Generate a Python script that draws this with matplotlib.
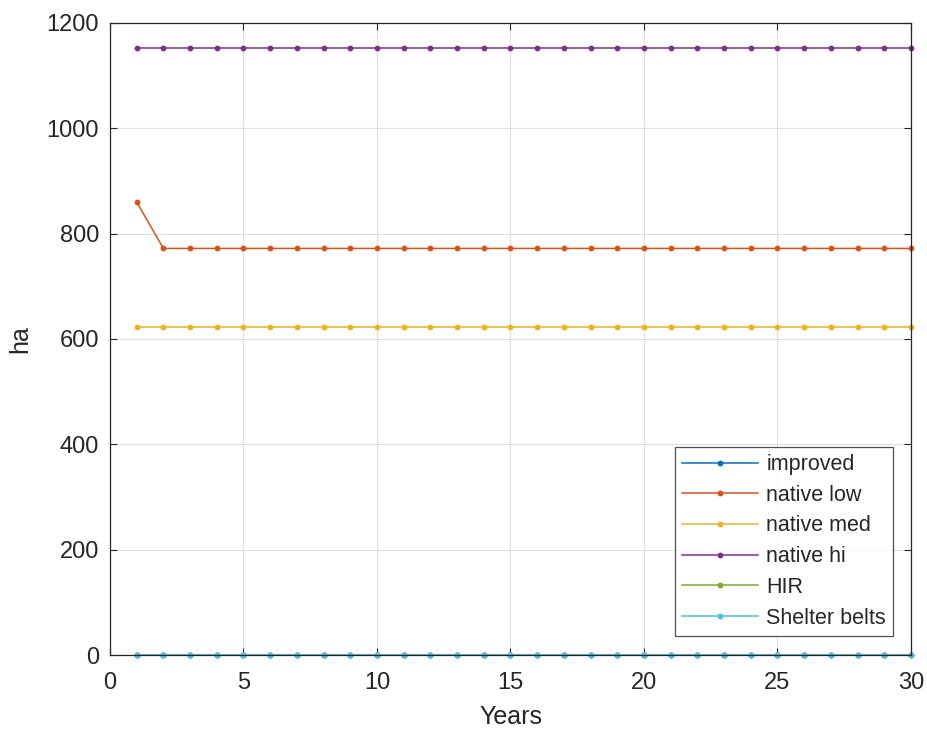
import matplotlib
matplotlib.use("Agg")
import matplotlib.pyplot as plt
import numpy as np

plt.rcParams['font.family'] = ['Liberation Sans', 'DejaVu Sans']

years = list(range(1, 31))
improved = [0] * 30
native_low = [860] + [772] * 29
native_med = [622] * 30
native_hi = [1152] * 30
hir = [0] * 30
shelter_belts = [0] * 30

series = [
    ("improved", improved, "#0072BD"),
    ("native low", native_low, "#D95319"),
    ("native med", native_med, "#EDB120"),
    ("native hi", native_hi, "#7E2F8E"),
    ("HIR", hir, "#77AC30"),
    ("Shelter belts", shelter_belts, "#4DBEEE"),
]

fig = plt.figure(figsize=(9.28, 7.29), dpi=100)
ax = fig.add_axes([110/928, 74/729, 801/928, 632/729])

for name, vals, col in series:
    ax.plot(years, vals, color=col, marker='o', markersize=4.2, markeredgewidth=0,
            linewidth=1.1, label=name, clip_on=False)

ax.set_xlim(0, 30)
ax.set_ylim(0, 1200)
ax.set_xticks([0, 5, 10, 15, 20, 25, 30])
ax.set_yticks([0, 200, 400, 600, 800, 1000, 1200])
ax.grid(True, color='#dedede', linewidth=0.8)
ax.set_axisbelow(True)
ax.tick_params(direction='in', length=5, labelsize=17, colors='#262626', top=True, right=True)
ax.tick_params(axis='y', pad=8)
ax.tick_params(axis='x', pad=12)
for s in ax.spines.values():
    s.set_color('#262626')
    s.set_linewidth(0.9)
ax.set_xlabel("Years", fontsize=18, color='#262626', labelpad=8)
ax.set_ylabel("ha", fontsize=18, color='#262626', labelpad=10)

leg = ax.legend(loc='lower right', bbox_to_anchor=(0.978, 0.03), fontsize=15.5, frameon=True,
                fancybox=False, edgecolor='#262626', handlelength=3.5, borderpad=0.35,
                labelspacing=0.45, handletextpad=0.4, borderaxespad=0, labelcolor='#262626')
leg.get_frame().set_linewidth(0.9)

fig.savefig("out.png", dpi=100)
